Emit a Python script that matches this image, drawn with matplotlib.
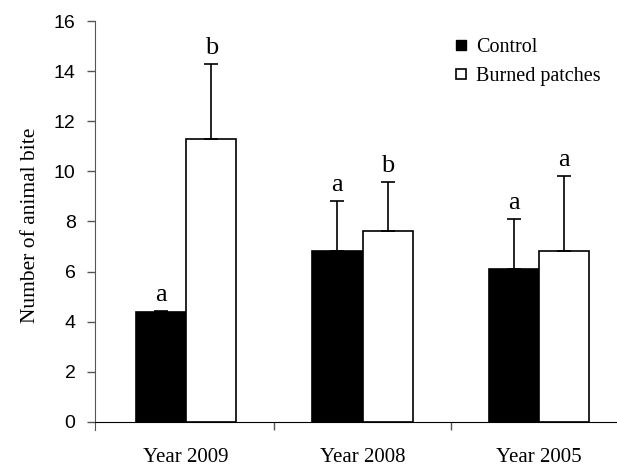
import numpy as np
import matplotlib.pyplot as plt
from matplotlib.lines import Line2D

years = ['Year 2009', 'Year 2008', 'Year 2005']
control = [4.38, 6.83, 6.12]
control_err = [0.06, 2.0, 1.97]
burned = [11.3, 7.63, 6.83]
burned_err = [3.0, 1.95, 2.98]
control_letters = ['a', 'a', 'a']
burned_letters = ['b', 'b', 'a']

serif = 'Liberation Serif'
sans = 'Liberation Sans'

fig = plt.figure(figsize=(6.17, 4.67), dpi=100)
ax = fig.add_axes([95/617, 37/467, 521/617, 409/467])

x = np.arange(len(years))
w = 0.285
ekw = dict(ecolor='black', elinewidth=1.2, capsize=5, capthick=1.2)

# only the upper half of each error bar is drawn
ax.bar(x - w/2, control, w, color='black', edgecolor='black', linewidth=1.2,
       yerr=[np.zeros(3), control_err], error_kw=ekw, label='Control')
ax.bar(x + w/2, burned, w, color='white', edgecolor='black', linewidth=1.2,
       yerr=[np.zeros(3), burned_err], error_kw=ekw, label='Burned patches')

# letters above the error bars
for i in range(len(years)):
    ax.text(x[i] - w/2, control[i] + control_err[i] + 0.4, control_letters[i],
            ha='center', va='baseline', family=serif, fontsize=19)
    ax.text(x[i] + w/2, burned[i] + burned_err[i] + 0.4, burned_letters[i],
            ha='center', va='baseline', family=serif, fontsize=19)

ax.set_ylim(-0.32, 16)
ax.set_xlim(-0.516, 2.436)
ax.set_yticks(np.arange(0, 17, 2))
ax.set_yticklabels([str(v) for v in range(0, 17, 2)], family=sans, fontsize=14)
ax.tick_params(axis='y', direction='out', length=6, width=1, pad=8, color='#555555')

ax.spines['bottom'].set_position(('data', 0))
ax.spines['top'].set_visible(False)
ax.spines['right'].set_visible(False)
ax.spines['left'].set_color('#555555')

ax.set_xticks(x)
ax.set_xticklabels(years, family=serif, fontsize=15)
ax.tick_params(axis='x', length=0, pad=19)
ax.set_xticks([0.5, 1.5], minor=True)
ax.tick_params(axis='x', which='minor', direction='out', length=6, width=1, color='#555555')

ax.set_ylabel('Number of animal bite', family=serif, fontsize=15.5, labelpad=10)

handles = [Line2D([], [], marker='s', linestyle='', markersize=7, markerfacecolor='black',
                  markeredgecolor='black'),
           Line2D([], [], marker='s', linestyle='', markersize=7, markerfacecolor='white',
                  markeredgecolor='black', markeredgewidth=1.2)]
ax.legend(handles, ['Control', 'Burned patches'], loc='upper left',
          bbox_to_anchor=(455/617, 1 - 38/467), bbox_transform=fig.transFigure,
          frameon=False, prop={'family': serif, 'size': 14.5}, handlelength=0.6,
          handletextpad=0.45, labelspacing=0.5, borderpad=0, borderaxespad=0)

fig.savefig('out.png', dpi=100)
